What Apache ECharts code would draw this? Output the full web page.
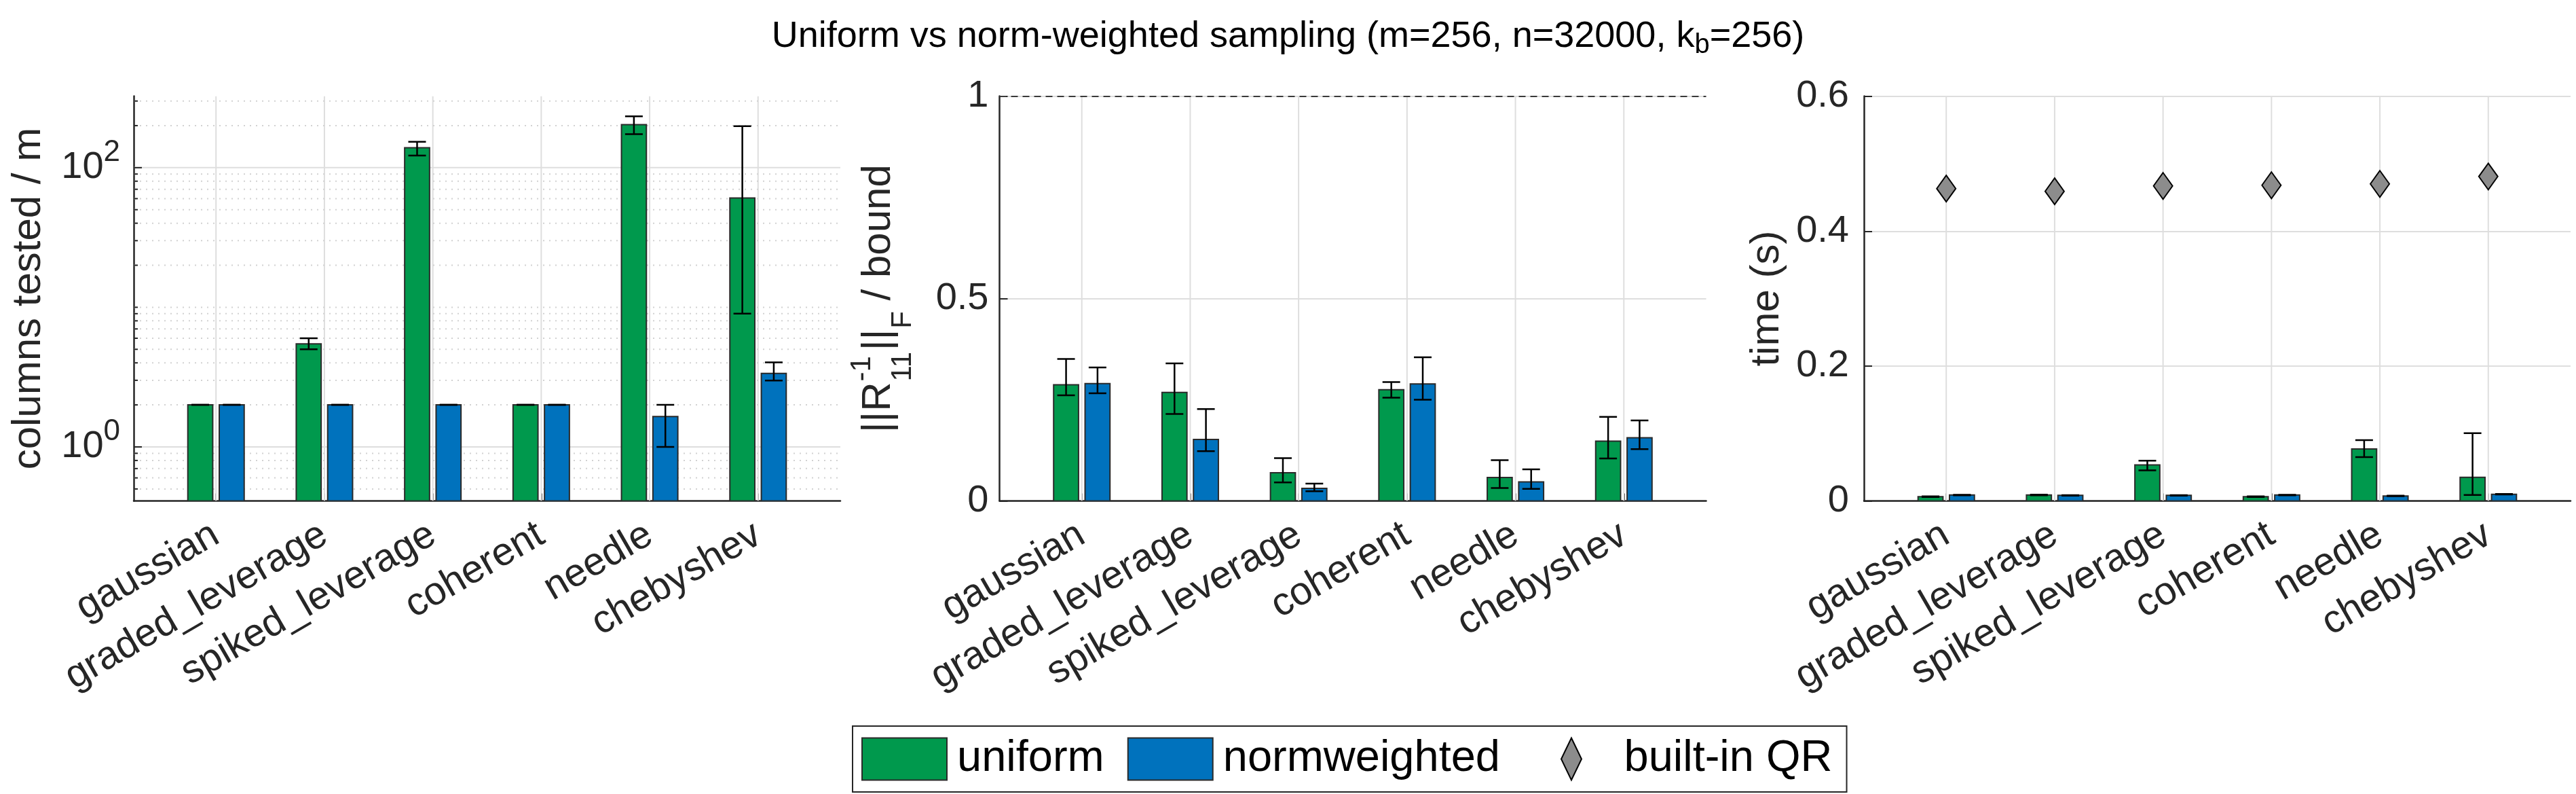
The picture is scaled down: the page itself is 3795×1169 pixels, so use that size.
<!DOCTYPE html>
<html><head><meta charset="utf-8">
<script src="https://cdn.jsdelivr.net/npm/echarts@6/dist/echarts.min.js"></script>
<style>html,body{margin:0;padding:0;background:#fff;}#c{width:3795px;height:1169px;}</style>
</head><body><div id="c"></div>
<script>
// ---------------- data ----------------
const categories = ['gaussian', 'graded_leverage', 'spiked_leverage', 'coherent', 'needle', 'chebyshev'];
const catPos = [1, 2, 3, 4, 5, 6];

// panel 1: columns tested / m (log scale)
const colsUniform   = [2.0, 5.47, 139, 2.0, 203, 60.6];
const colsUniformLo = [2.0, 5.0, 122, 2.0, 174, 9.0];
const colsUniformHi = [2.0, 6.0, 153, 2.0, 233, 198];
const colsNorm      = [2.0, 2.0, 2.0, 2.0, 1.65, 3.36];
const colsNormLo    = [2.0, 2.0, 2.0, 2.0, 1.0, 2.99];
const colsNormHi    = [2.0, 2.0, 2.0, 2.0, 2.0, 4.03];
const colsMajorTicks = [1, 100];
const colsMinorTicks = [0.5, 0.6, 0.7, 0.8, 0.9, 2, 3, 4, 5, 6, 7, 8, 9, 10, 20, 30, 40, 50, 60, 70, 80, 90, 200, 300];

// panel 2: ||R11^-1||_F / bound
const ratioUniform   = [0.287, 0.268, 0.070, 0.275, 0.058, 0.148];
const ratioUniformLo = [0.261, 0.215, 0.046, 0.255, 0.032, 0.105];
const ratioUniformHi = [0.351, 0.340, 0.106, 0.294, 0.101, 0.208];
const ratioNorm      = [0.290, 0.152, 0.031, 0.289, 0.047, 0.156];
const ratioNormLo    = [0.266, 0.123, 0.024, 0.250, 0.030, 0.128];
const ratioNormHi    = [0.330, 0.227, 0.043, 0.355, 0.078, 0.199];
const ratioBound = 1;

// panel 3: time (s)
const timeUniform   = [0.0063, 0.0088, 0.0534, 0.0063, 0.0772, 0.0350];
const timeUniformLo = [0.0058, 0.0083, 0.0455, 0.0058, 0.0651, 0.0090];
const timeUniformHi = [0.0068, 0.0093, 0.0597, 0.0068, 0.0901, 0.1005];
const timeNorm      = [0.0088, 0.0083, 0.0083, 0.0088, 0.0075, 0.0100];
const timeNormLo    = [0.0084, 0.0079, 0.0079, 0.0084, 0.0071, 0.0096];
const timeNormHi    = [0.0092, 0.0087, 0.0087, 0.0092, 0.0079, 0.0104];
const timeQR        = [0.463, 0.459, 0.467, 0.468, 0.470, 0.481];

// ---------------- styling ----------------
const FF = "'Liberation Sans', Arial, Helvetica, sans-serif";
const TXT = '#262626';
const GREEN = '#00994d', BLUE = '#0072bd', QRGRAY = '#8c8c8c';
const GRIDC = '#dedede';
const X_MIN = 0.241, X_MAX = 6.759;
const LOG_MIN = 0.41, LOG_MAX = 325;
const BAR_W = 0.23, BAR_OFF = 0.145, CAP = 26;
const TOP = 141.6, H = 596, W = 1041;
const lefts = [197, 1472.5, 2746];

function rows(v, lo, hi) { return catPos.map((p, i) => [p, v[i], lo[i], hi[i]]); }

function barRender(off, color, base) {
  return function (params, api) {
    const x = api.value(0) + off;
    const v = api.value(1), lo = api.value(2), hi = api.value(3);
    const a = api.coord([x - BAR_W / 2, v]);
    const b = api.coord([x + BAR_W / 2, base]);
    const pl = api.coord([x, lo]), ph = api.coord([x, hi]);
    const c = pl[0];
    const es = { stroke: '#000', lineWidth: 2.5 };
    return { type: 'group', children: [
      { type: 'rect', shape: { x: a[0], y: a[1], width: b[0] - a[0], height: b[1] - a[1] },
        style: { fill: color, stroke: '#2a2a2a', lineWidth: 2 } },
      { type: 'line', shape: { x1: c, y1: pl[1], x2: c, y2: ph[1] }, style: es },
      { type: 'line', shape: { x1: c - CAP / 2, y1: pl[1], x2: c + CAP / 2, y2: pl[1] }, style: es },
      { type: 'line', shape: { x1: c - CAP / 2, y1: ph[1], x2: c + CAP / 2, y2: ph[1] }, style: es }
    ]};
  };
}

function vgridSeries(i, yRef) {
  return { type: 'custom', xAxisIndex: i, yAxisIndex: i, silent: true, z: 1, clip: true,
    data: catPos.map(p => [p, yRef]),
    renderItem: function (params, api) {
      const cs = params.coordSys;
      const x = api.coord([api.value(0), api.value(1)])[0];
      return { type: 'line', shape: { x1: x, y1: cs.y, x2: x, y2: cs.y + cs.height },
        style: { stroke: GRIDC, lineWidth: 2 } };
    } };
}

function hgridSeries(values, major) {
  return { type: 'custom', xAxisIndex: 0, yAxisIndex: 0, silent: true, z: 1,
    data: values.map(v => [X_MIN, v]),
    renderItem: function (params, api) {
      const cs = params.coordSys;
      const y = api.coord([api.value(0), api.value(1)])[1];
      return { type: 'group', children: [
        { type: 'line', shape: { x1: cs.x, y1: y, x2: cs.x + cs.width, y2: y },
          style: major ? { stroke: GRIDC, lineWidth: 2 } : { stroke: '#d2d2d2', lineWidth: 2, lineDash: [2, 7] } },
        { type: 'line', shape: { x1: cs.x, y1: y, x2: cs.x + (major ? 12 : 6), y2: y },
          style: { stroke: TXT, lineWidth: 2 } }
      ]};
    } };
}

function xAxis(i) {
  return { type: 'value', gridIndex: i, min: X_MIN, max: X_MAX,
    axisLine: { show: true, onZero: false, lineStyle: { color: TXT, width: 2.5 } },
    axisTick: { show: true, inside: true, length: 11, customValues: catPos, lineStyle: { color: TXT, width: 2 } },
    axisLabel: { show: true, customValues: catPos, rotate: 30, margin: 46, fontSize: 58, fontFamily: FF, color: TXT,
      formatter: v => categories[Math.round(v) - 1] || '' },
    splitLine: { show: false } };
}

const axisLineY = { show: true, onZero: false, lineStyle: { color: TXT, width: 2.5 } };

// measure text for the composite axis title of panel 2
function mw(t, s) { const ctx = document.createElement('canvas').getContext('2d'); ctx.font = s + 'px ' + FF; return ctx.measureText(t).width; }
const NS = 60, SS = 42;
function tx(text, x, base, size) {
  return { type: 'text', x: x, y: base - 0.3465 * size,
    style: { text: text, font: size + 'px ' + FF, fill: TXT, align: 'left', verticalAlign: 'middle', textAlign: 'left', textVerticalAlign: 'middle' } };
}
const w1 = mw('||R', NS), wsup = mw('-1', SS), wsub = mw('11', SS), w2 = mw('||', NS), wF = mw('F', SS), w3 = mw(' / bound', NS);
const x2 = w1 + Math.max(wsup, wsub) + 3;
const xF = x2 + w2;
const x3 = xF + wF;
const Ltot = x3 + w3;
const r11Label = {
  type: 'group', x: 1315, y: TOP + H / 2 + Ltot / 2, rotation: Math.PI / 2, silent: true,
  children: [
    tx('||R', 0, 0, NS), tx('-1', w1 + 1, -30, SS), tx('11', w1 + 1, 30, SS),
    tx('||', x2, 0, NS), tx('F', xF + 1, 30, SS), tx(' / bound', x3, 0, NS)
  ]
};

const legendText = { fontSize: 65, color: '#000', fontFamily: FF, lineHeight: 62 };

const option = {
  animation: false,
  backgroundColor: '#fff',
  title: {
    left: 'center', top: 16,
    text: 'Uniform vs norm-weighted sampling (m=256, n=32000, k{sub|b}=256)',
    textStyle: { fontSize: 54, fontWeight: 'normal', color: '#000', fontFamily: FF, lineHeight: 66,
      rich: { sub: { fontSize: 40, fontFamily: FF, color: '#000', lineHeight: 30, verticalAlign: 'bottom' } } }
  },
  legend: {
    left: 1256, top: 1069, orient: 'horizontal',
    itemWidth: 125, itemHeight: 62, itemGap: 34,
    padding: [16, 21, 16, 13],
    borderColor: TXT, borderWidth: 2, backgroundColor: '#fff',
    selectedMode: false,
    textStyle: Object.assign({ padding: [0, 0, 0, 10] }, legendText),
    data: [
      { name: 'uniform', icon: 'rect', itemStyle: { color: GREEN, borderColor: '#2a2a2a', borderWidth: 2 } },
      { name: 'normweighted', icon: 'rect', itemStyle: { color: BLUE, borderColor: '#2a2a2a', borderWidth: 2 },
        textStyle: Object.assign({ padding: [0, 55, 0, 10] }, legendText) },
      { name: 'built-in QR', icon: 'path://M14,0L28,29L14,58L0,29Z', itemStyle: { color: QRGRAY, borderColor: '#000', borderWidth: 2 } }
    ]
  },
  grid: lefts.map(l => ({ left: l, top: TOP, width: W, height: H })),
  xAxis: [xAxis(0), xAxis(1), xAxis(2)],
  yAxis: [
    { type: 'log', gridIndex: 0, logBase: 10, min: LOG_MIN, max: LOG_MAX,
      axisLine: axisLineY, axisTick: { show: false }, splitLine: { show: false },
      axisLabel: { customValues: colsMajorTicks, margin: 20, color: TXT, fontFamily: FF,
        formatter: v => '{b|10}{s|' + Math.round(Math.log10(v)) + '}',
        rich: { b: { fontSize: 56, fontFamily: FF, color: TXT, lineHeight: 88 },
                s: { fontSize: 44, fontFamily: FF, color: TXT, lineHeight: 46, verticalAlign: 'top' } } },
      name: 'columns tested / m', nameLocation: 'middle', nameRotate: 90, nameGap: 125,
      nameTextStyle: { fontSize: 60, fontFamily: FF, color: TXT } },
    { type: 'value', gridIndex: 1, min: 0, max: 1, interval: 0.5,
      axisLine: axisLineY,
      axisTick: { show: true, inside: true, length: 12, lineStyle: { color: TXT, width: 2 } },
      axisLabel: { margin: 16, fontSize: 56, fontFamily: FF, color: TXT },
      splitLine: { show: true, lineStyle: { color: GRIDC, width: 2 } } },
    { type: 'value', gridIndex: 2, min: 0, max: 0.6, interval: 0.2,
      axisLine: axisLineY,
      axisTick: { show: true, inside: true, length: 12, lineStyle: { color: TXT, width: 2 } },
      axisLabel: { margin: 22, fontSize: 56, fontFamily: FF, color: TXT },
      splitLine: { show: true, lineStyle: { color: GRIDC, width: 2 } },
      name: 'time (s)', nameLocation: 'middle', nameRotate: 90, nameGap: 113,
      nameTextStyle: { fontSize: 60, fontFamily: FF, color: TXT } }
  ],
  graphic: [r11Label],
  series: [
    vgridSeries(0, 1), vgridSeries(1, 0.5), vgridSeries(2, 0.3),
    hgridSeries(colsMinorTicks, false), hgridSeries(colsMajorTicks, true),
    { name: 'uniform', type: 'custom', xAxisIndex: 0, yAxisIndex: 0, z: 3, clip: true,
      itemStyle: { color: GREEN }, encode: { x: 0, y: 1 },
      data: rows(colsUniform, colsUniformLo, colsUniformHi), renderItem: barRender(-BAR_OFF, GREEN, LOG_MIN) },
    { name: 'normweighted', type: 'custom', xAxisIndex: 0, yAxisIndex: 0, z: 3, clip: true,
      itemStyle: { color: BLUE }, encode: { x: 0, y: 1 },
      data: rows(colsNorm, colsNormLo, colsNormHi), renderItem: barRender(BAR_OFF, BLUE, LOG_MIN) },
    { name: 'uniform', type: 'custom', xAxisIndex: 1, yAxisIndex: 1, z: 3, clip: true,
      itemStyle: { color: GREEN }, encode: { x: 0, y: 1 },
      data: rows(ratioUniform, ratioUniformLo, ratioUniformHi), renderItem: barRender(-BAR_OFF, GREEN, 0),
      markLine: { silent: true, symbol: 'none', label: { show: false },
        lineStyle: { type: [10, 7], color: '#3a3a3a', width: 2 }, data: [{ yAxis: ratioBound }] } },
    { name: 'normweighted', type: 'custom', xAxisIndex: 1, yAxisIndex: 1, z: 3, clip: true,
      itemStyle: { color: BLUE }, encode: { x: 0, y: 1 },
      data: rows(ratioNorm, ratioNormLo, ratioNormHi), renderItem: barRender(BAR_OFF, BLUE, 0) },
    { name: 'uniform', type: 'custom', xAxisIndex: 2, yAxisIndex: 2, z: 3, clip: true,
      itemStyle: { color: GREEN }, encode: { x: 0, y: 1 },
      data: rows(timeUniform, timeUniformLo, timeUniformHi), renderItem: barRender(-BAR_OFF, GREEN, 0) },
    { name: 'normweighted', type: 'custom', xAxisIndex: 2, yAxisIndex: 2, z: 3, clip: true,
      itemStyle: { color: BLUE }, encode: { x: 0, y: 1 },
      data: rows(timeNorm, timeNormLo, timeNormHi), renderItem: barRender(BAR_OFF, BLUE, 0) },
    { name: 'built-in QR', type: 'scatter', xAxisIndex: 2, yAxisIndex: 2, z: 4,
      symbol: 'diamond', symbolSize: [28, 39],
      itemStyle: { color: QRGRAY, borderColor: '#000', borderWidth: 2, opacity: 1 },
      data: catPos.map((p, i) => [p, timeQR[i]]) }
  ]
};

const chart = echarts.init(document.getElementById('c'), null, { renderer: 'canvas', width: 3795, height: 1169 });
chart.setOption(option);
</script>
</body></html>
